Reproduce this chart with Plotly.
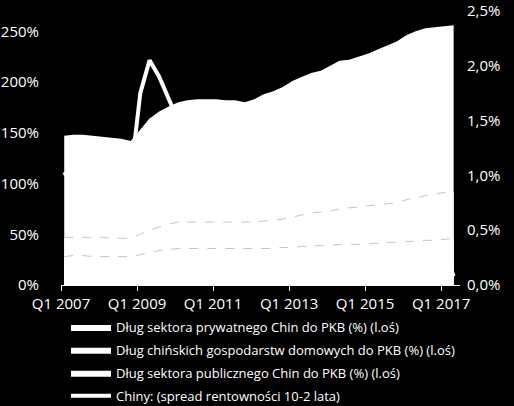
import pandas as pd
import plotly.graph_objects as go

# quarterly observations, Q1 2007 .. Q2 2017
dates = pd.date_range("2007-02-01", periods=42, freq="QS-FEB")

# debt to GDP (%), left axis
private_debt = [147, 148, 148, 147, 146, 145, 144, 142, 153, 164,
                171, 176, 180, 182, 183, 183, 183, 182, 182, 180,
                183, 188, 191, 195, 201, 205, 209, 211, 216, 221,
                222, 225, 228, 232, 236, 240, 246, 250, 253, 254,
                255, 256]
household_debt = [47, 47, 47, 47, 47, 46, 46, 46, 50, 54,
                  57, 60, 62, 62, 62, 62, 62, 62, 62, 62,
                  62, 63, 64, 65, 67, 69, 71, 72, 73, 75,
                  76, 77, 78, 79, 80, 81, 84, 86, 88, 90,
                  91, 92]
public_debt = [28, 29, 29, 28, 28, 28, 28, 28, 30, 32,
               34, 35, 36, 36, 36, 36, 36, 36, 36, 36,
               36, 36, 36, 37, 37, 38, 38, 39, 39, 40,
               40, 40, 41, 41, 42, 42, 43, 43, 44, 44,
               45, 46]

# 10y-2y yield spread (%), right axis
spread = [1.03, 0.9, 0.8, 0.9, 0.7, 0.6, 0.9, 1.0, 1.75, 2.05,
          1.9, 1.7, 1.5, 1.3, 1.2, 1.0, 0.9, 0.6, 0.5, 0.4,
          0.3, 0.4, 0.5, 0.6, 0.6, 0.5, 0.3, 0.2, 0.4, 0.5,
          0.6, 0.8, 0.9, 0.8, 0.6, 0.5, 0.6, 0.5, 0.4, 0.3,
          0.3, 0.08]

tick_dates = ["2007-01-01", "2009-01-01", "2011-01-01",
              "2013-01-01", "2015-01-01", "2017-01-01"]
tick_text = ["Q1 2007", "Q1 2009", "Q1 2011", "Q1 2013", "Q1 2015", "Q1 2017"]

left_ticks = [0, 50, 100, 150, 200, 250]
left_labels = ["0%", "50%", "100%", "150%", "200%", "250%"]
right_ticks = [0, 0.5, 1, 1.5, 2, 2.5]
right_labels = ["0,0%", "0,5%", "1,0%", "1,5%", "2,0%", "2,5%"]

names = ["Dług sektora prywatnego Chin do PKB (%) (l.oś)",
         "Dług chińskich gospodarstw domowych do PKB (%) (l.oś)",
         "Dług sektora publicznego Chin do PKB (%) (l.oś)",
         "Chiny: (spread rentowności 10-2 lata)"]

font = "Open Sans"

fig = go.Figure()

# white areas on the overlaying (left) axis so they sit above the spread line
for i, (name, vals) in enumerate(zip(names[:3], [private_debt, household_debt, public_debt])):
    fig.add_trace(go.Scatter(x=dates, y=vals, name=name, yaxis="y2",
                             legendgroup="g%d" % i,
                             mode="lines", fill="tozeroy",
                             fillcolor="white", line=dict(width=0, color="white")))

# faint dashed edges of the inner areas
for vals in [household_debt, public_debt]:
    fig.add_trace(go.Scatter(x=dates, y=vals, yaxis="y2", mode="lines",
                             showlegend=False, hoverinfo="skip",
                             line=dict(color="#c4c4c4", width=1, dash="dash")))

fig.add_trace(go.Scatter(x=dates, y=spread, name=names[3], yaxis="y",
                         legendgroup="g3",
                         mode="lines", line=dict(color="white", width=4)))

fig.update_layout(
    width=514, height=406,
    paper_bgcolor="black", plot_bgcolor="black",
    margin=dict(l=61, r=54, t=11, b=121),
    font=dict(family=font, color="white", size=14),
    xaxis=dict(type="date", range=["2007-01-01", "2017-07-01"],
               tickvals=tick_dates, ticktext=tick_text, automargin=False,
               showgrid=False, zeroline=False,
               showline=True, linecolor="white", linewidth=1,
               ticks="outside", ticklen=5, tickcolor="white",
               tickfont=dict(size=15)),
    yaxis=dict(side="right", range=[0, 2.5], automargin=False,
               tickvals=right_ticks, ticktext=right_labels,
               ticklabelstandoff=6,
               showgrid=False, zeroline=False, tickfont=dict(size=15)),
    yaxis2=dict(side="left", overlaying="y", range=[0, 270], automargin=False,
                tickvals=left_ticks, ticktext=left_labels,
                ticklabelstandoff=21,
                showgrid=False, zeroline=False, tickfont=dict(size=15)),
    legend=dict(x=0.0125, xanchor="left", yref="container", y=0.2315, yanchor="top",
                bgcolor="rgba(0,0,0,0)", font=dict(size=13, color="white"),
                itemwidth=40, tracegroupgap=3, traceorder="grouped"),
    showlegend=True,
)

fig.write_html("out.html", config={"displayModeBar": False}, post_script=(
    "document.body.style.margin='0';"
    "document.body.style.background='black';"))
